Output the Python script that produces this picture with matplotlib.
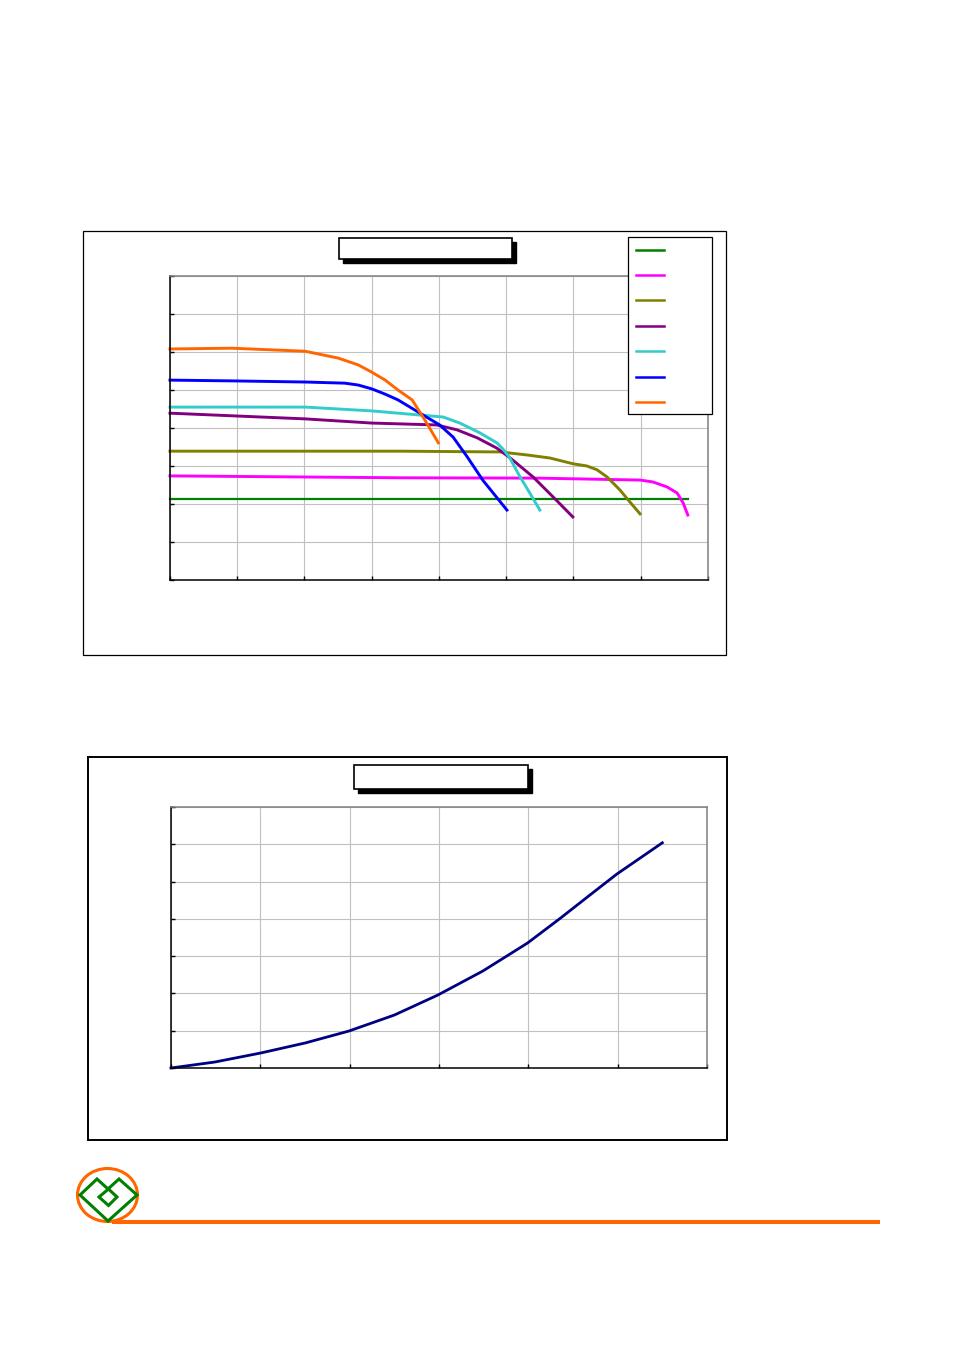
import matplotlib
matplotlib.use("Agg")
import matplotlib.pyplot as plt
from matplotlib.patches import Rectangle, Ellipse, Polygon

# ---- chart 1 data (7 curves) ----
green_x = [0, 7.70]
green_y = [2.13, 2.13]

magenta_x = [0, 3.42, 5.50, 6.99, 7.18, 7.39, 7.54, 7.63, 7.70]
magenta_y = [2.74, 2.69, 2.68, 2.63, 2.58, 2.45, 2.29, 2.03, 1.71]

olive_x = [0, 3.42, 4.91, 5.31, 5.65, 5.99, 6.20, 6.35, 6.50, 6.69, 6.84, 6.99]
olive_y = [3.39, 3.39, 3.37, 3.29, 3.21, 3.06, 3.00, 2.90, 2.71, 2.37, 2.05, 1.74]

purple_x = [0, 2.01, 3.00, 3.97, 4.27, 4.57, 4.86, 5.06, 5.40, 5.70, 5.99]
purple_y = [4.39, 4.24, 4.13, 4.08, 3.95, 3.74, 3.47, 3.21, 2.71, 2.18, 1.66]

cyan_x = [0, 2.01, 3.00, 3.72, 4.06, 4.31, 4.61, 4.86, 4.95, 5.05, 5.20, 5.35, 5.50]
cyan_y = [4.55, 4.55, 4.45, 4.34, 4.29, 4.13, 3.87, 3.61, 3.45, 3.22, 2.73, 2.29, 1.84]

blue_x = [0, 0.92, 2.01, 2.60, 2.80, 3.00, 3.20, 3.39, 3.69, 4.01, 4.21, 4.42, 4.65, 5.01]
blue_y = [5.26, 5.24, 5.21, 5.18, 5.13, 5.03, 4.89, 4.74, 4.42, 4.08, 3.76, 3.24, 2.63, 1.84]

orange_x = [0, 0.92, 2.01, 2.50, 2.80, 3.00, 3.20, 3.39, 3.60, 3.79, 3.99]
orange_y = [6.08, 6.10, 6.02, 5.84, 5.66, 5.47, 5.26, 5.00, 4.74, 4.21, 3.61]

series1 = [
    (green_x, green_y, "#008000", 1.6),
    (magenta_x, magenta_y, "#FF00FF", 2.1),
    (olive_x, olive_y, "#808000", 2.1),
    (purple_x, purple_y, "#800080", 2.1),
    (cyan_x, cyan_y, "#33CCCC", 2.1),
    (blue_x, blue_y, "#0000FF", 2.1),
    (orange_x, orange_y, "#FF6600", 2.1),
]

# ---- chart 2 data ----
curve_x = [0, 0.49, 1.0, 1.5, 1.99, 2.5, 2.99, 3.49, 3.99, 4.36, 4.69, 4.99, 5.5]
curve_y = [0, 0.16, 0.40, 0.67, 0.99, 1.42, 1.96, 2.60, 3.35, 4.02, 4.64, 5.20, 6.04]

W, H = 954, 1350
fig = plt.figure(figsize=(W / 100, H / 100), dpi=100)


def px_axes(l, t, r, b):
    return fig.add_axes([l / W, 1 - b / H, (r - l) / W, (b - t) / H])


def style(ax, nx, ny):
    ax.set_xlim(0, nx)
    ax.set_ylim(0, ny)
    ax.set_xticks(range(nx + 1))
    ax.set_yticks(range(ny + 1))
    ax.set_xticklabels([])
    ax.set_yticklabels([])
    ax.grid(True, color="#c0c0c0", lw=0.8)
    ax.set_axisbelow(True)
    ax.tick_params(direction="in", length=3, width=1, color="black")
    for s in ["left", "bottom"]:
        ax.spines[s].set_color("black")
        ax.spines[s].set_linewidth(1.1)
    for s in ["top", "right"]:
        ax.spines[s].set_color("#808080")
        ax.spines[s].set_linewidth(1.1)


ax1 = px_axes(170, 276, 708, 580)
style(ax1, 8, 8)
for x, y, c, lw in series1:
    ax1.plot(x, y, color=c, lw=lw, clip_on=False, solid_joinstyle="round")

ax2 = px_axes(171, 807, 707, 1068)
style(ax2, 6, 7)
ax2.plot(curve_x, curve_y, color="#000080", lw=2.0, clip_on=False, solid_joinstyle="round")

# overlay in pixel coordinates for frames, title boxes, legend, logo
ov = fig.add_axes([0, 0, 1, 1], zorder=10)
ov.set_xlim(0, W)
ov.set_ylim(H, 0)
ov.axis("off")
ov.patch.set_alpha(0)

ov.add_patch(Rectangle((83, 231), 643, 424, fill=False, ec="black", lw=0.9))
ov.add_patch(Rectangle((88, 757), 639, 383, fill=False, ec="black", lw=1.4))

# title boxes with shadow
for l, t, w, h in [(339, 238, 173, 21), (354, 765, 174, 24)]:
    ov.add_patch(Rectangle((l + 4, t + 4), w, h, fc="black", ec="black", lw=1))
    ov.add_patch(Rectangle((l, t), w, h, fc="white", ec="black", lw=1.2))

# legend
ov.add_patch(Rectangle((628, 237), 84, 177, fc="white", ec="black", lw=0.9))
leg_y = [250, 275, 300, 326, 351, 377, 402]
for (x, y, c, lw), ly in zip(series1, leg_y):
    ov.plot([636, 664], [ly, ly], color=c, lw=1.8)

# logo and footer line
ov.plot([112, 880], [1221.5, 1221.5], color="#FF6600", lw=2.9, solid_capstyle="butt")
ov.add_patch(Ellipse((107.5, 1195), 60, 53, fill=False, ec="#FF6600", lw=2.2))
ov.add_patch(Polygon([(80, 1195), (97, 1179), (108, 1189), (119, 1179), (137, 1195), (108, 1221)],
                     closed=True, fill=False, ec="#008000", lw=2.2, joinstyle="miter"))
ov.add_patch(Polygon([(99, 1197), (108.5, 1189), (117, 1197), (108.5, 1205.5)],
                     closed=True, fill=False, ec="#008000", lw=2.2))

fig.savefig("out.png", dpi=100)
